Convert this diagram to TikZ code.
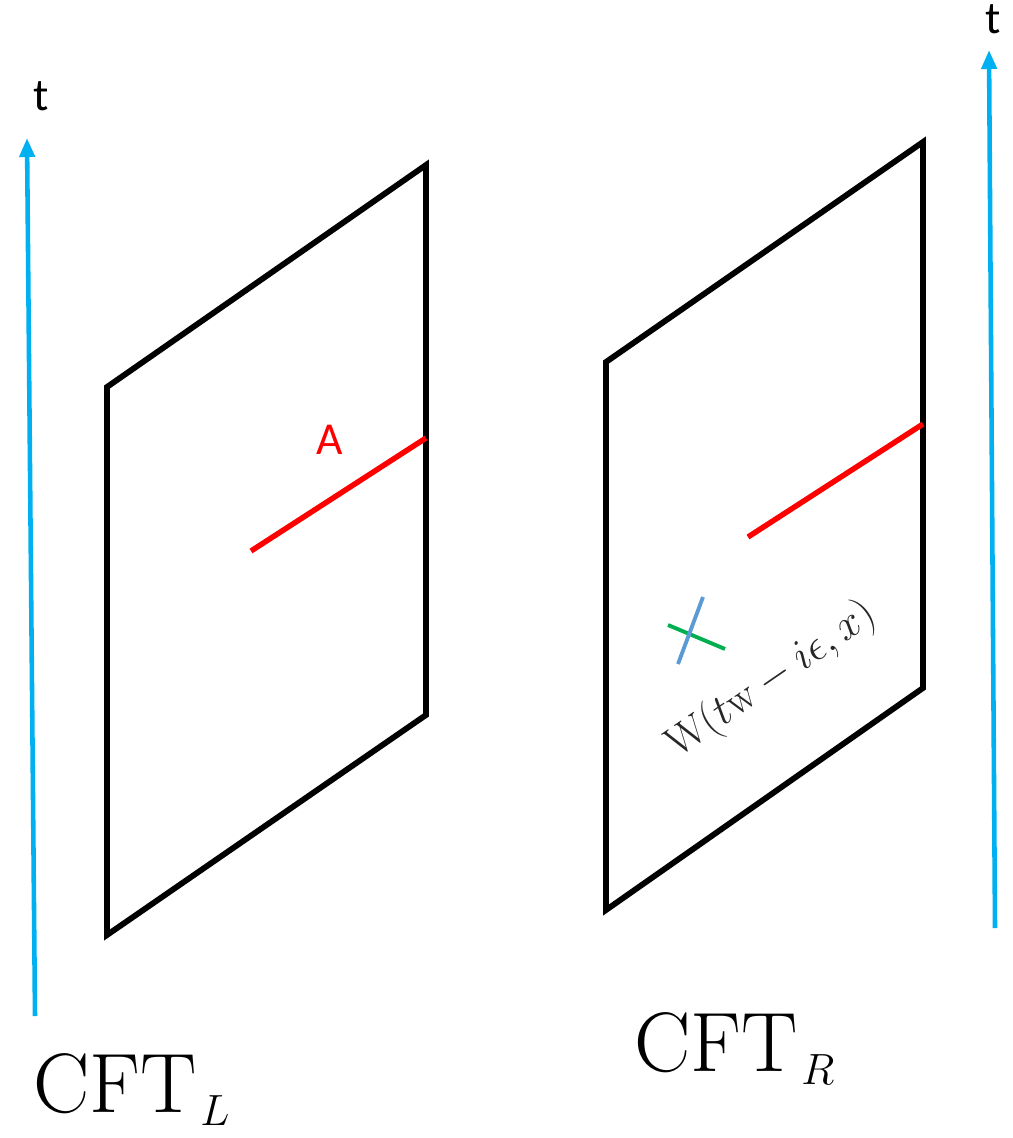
\documentclass[tikz,border=0pt]{standalone}
\usepackage{fontspec}
\newfontfamily\calfont{Carlito}
\usetikzlibrary{arrows.meta}
\definecolor{tblue}{RGB}{0,176,240}
\definecolor{xblue}{RGB}{91,155,213}
\definecolor{xgreen}{RGB}{0,176,80}
\definecolor{ared}{RGB}{255,0,0}
\newcommand{\cftsub}[1]{\kern2pt\raisebox{-7.6pt}{\fontsize{37}{37}\selectfont$#1$}}
\tikzset{
  panel/.style={line width=3.3pt, black, line join=miter},
  subsys/.style={line width=3.1pt, ared},
  timeaxis/.style={line width=2.6pt, tblue, -{Triangle[width=0.3cm,length=0.38cm]}},
  tlabel/.style={font=\calfont\fontsize{26}{28}\selectfont, inner sep=0pt},
  cftlabel/.style={font=\fontsize{48}{52}\selectfont, inner sep=0pt, anchor=base west},
}
\begin{document}
\begin{tikzpicture}[x=0.02cm, y=-0.02cm]
\useasboundingbox (0,0) rectangle (1012,1138);
% left panel
\coordinate (L1) at (107,387);
\coordinate (L2) at (426,165);
\coordinate (L3) at (426,715);
\coordinate (L4) at (107,935);
\draw[panel] (L1) -- (L2) -- (L3) -- (L4) -- cycle;
\coordinate (LA1) at (251,551);
\coordinate (LA2) at (426,438);
\draw[subsys] (LA1) -- (LA2);
\node[tlabel, text=ared] (A) at (330,440) {A};
% right panel
\coordinate (R1) at (606,362);
\coordinate (R2) at (923,142);
\coordinate (R3) at (923,688);
\coordinate (R4) at (606,910);
\draw[panel] (R1) -- (R2) -- (R3) -- (R4) -- cycle;
\coordinate (RA1) at (748,537);
\coordinate (RA2) at (923,424);
\draw[subsys] (RA1) -- (RA2);
% cross
\coordinate (xb1) at (703,597);
\coordinate (xb2) at (678,664);
\coordinate (xg1) at (668,625);
\coordinate (xg2) at (725,649);
\draw[line width=2.2pt, xgreen] (xg1) -- (xg2);
\draw[line width=2.2pt, xblue] (xb1) -- (xb2);
\node[inner sep=0pt, rotate=34.5, text=black!85, font=\fontsize{24}{26}\selectfont] (W) at (772,680) {$\mathrm{W}(t\mathrm{w}-i\epsilon,x)$};
% time axes
\coordinate (tLs) at (35,1016);
\coordinate (tLe) at (27,138);
\draw[timeaxis] (tLs) -- (tLe);
\node[tlabel] (tL) at (41,96) {t};
\coordinate (tRs) at (995,928);
\coordinate (tRe) at (989,50);
\draw[timeaxis] (tRs) -- (tRe);
\node[tlabel] (tR) at (993,19) {t};
% labels
\node[cftlabel] (cftL) at (33,1112) {CFT\cftsub{L}};
\node[cftlabel] (cftR) at (634,1071) {CFT\cftsub{R}};
\end{tikzpicture}
\end{document}
